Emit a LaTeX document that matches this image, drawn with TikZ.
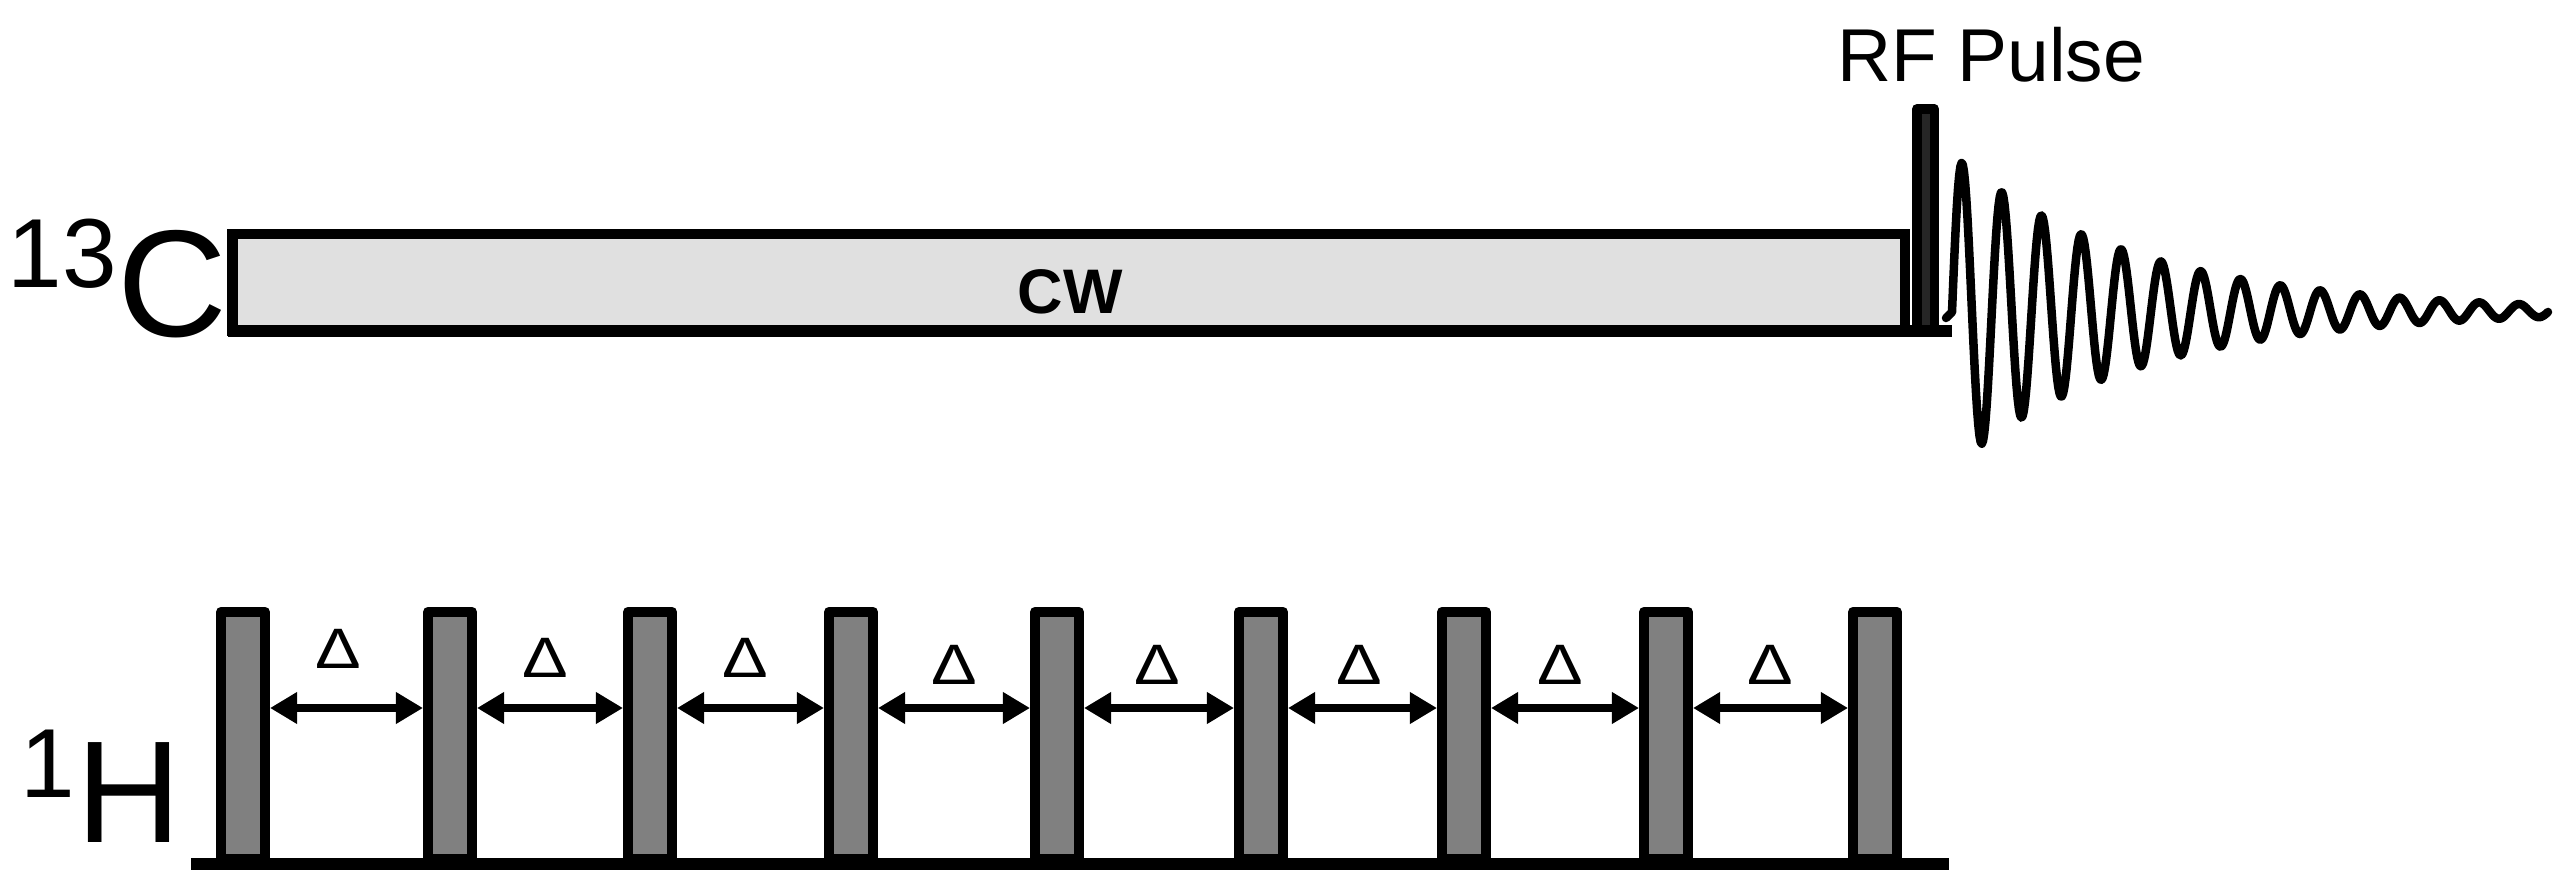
\documentclass[tikz,border=0pt]{standalone}
\usepackage{fontspec}
\usepackage{graphicx}
\setmainfont{Liberation Sans}
\usetikzlibrary{arrows.meta}
\definecolor{boxfill}{HTML}{E0E0E0}
\definecolor{pulsegray}{HTML}{808080}
\definecolor{rfdark}{HTML}{262626}
\newcommand{\myfs}[1]{\fontsize{#1pt}{#1pt}\selectfont}
\begin{document}
\begin{tikzpicture}[x=0.01cm, y=-0.01cm,
  hpulse/.style={draw, fill=pulsegray, line width=1mm, line join=round,
    minimum width=0.44cm, minimum height=2.47cm, inner sep=0pt, outer sep=0.5mm, anchor=south},
  dimarrow/.style={<->, >={Triangle[length=2.7mm, width=3mm]}, line width=0.8mm},
  axisline/.style={line width=1.2mm},
  txt/.style={inner sep=0pt, outer sep=0pt, anchor=base west},
  dlabel/.style={inner sep=0pt, anchor=base, font=\myfs{16.2}},
  fid/.style={line width=0.85mm, line join=round, line cap=round}
]
\useasboundingbox (0,0) rectangle (2562,888);

% ---- 13C channel ----
\node[draw, fill=boxfill, line width=1mm, minimum width=16.72cm, minimum height=0.97cm,
      inner sep=0pt, outer sep=0pt, anchor=north west] (cw) at (232.5,234) {};
\node[inner sep=0pt, anchor=base, font=\bfseries\myfs{17.9}] (cwlabel) at (1070,314) {CW};
\node[draw, fill=rfdark, line width=0.95mm, line join=round, minimum width=0.175cm,
      minimum height=2.22cm, inner sep=0pt, outer sep=0pt, anchor=south] (rf) at (1925.5,331) {};
\coordinate (cb0) at (228,331);
\coordinate (cb1) at (1952,331);
\draw[axisline] (cb0) -- (cb1);

\node[txt, font=\myfs{27.9}] (c13) at (8,288) {13};
\node[txt, font=\myfs{43.25}] (cC) at (117,337) {C};
\node[txt, font=\myfs{21.3}] (rflabel) at (1837,82) {RF Pulse};

% FID
\draw[fid] (1946,318) -- plot[domain=0:596, samples=500]
  ({1952+\x}, {311 - 148*exp(-0.0055*(\x-10))*cos(9.045*(\x-10))});

% ---- 1H channel ----
\coordinate (ay) at (0,708);
\foreach \i/\xx in {1/243, 2/450, 3/650, 4/851, 5/1057, 6/1261, 7/1464, 8/1666, 9/1875}{
  \node[hpulse] (p\i) at (\xx,864) {};
}
\foreach \i/\j in {1/2, 2/3, 3/4, 4/5, 5/6, 6/7, 7/8, 8/9}{
  \draw[dimarrow] (p\i.east |- ay) -- (p\j.west |- ay);
}
\foreach \k/\xx/\yy in {1/338/669, 2/545/677, 3/745/677, 4/954/684, 5/1157/684, 6/1359/684, 7/1560/684, 8/1770/684}{
  \node[dlabel] (d\k) at (\xx,\yy) {\scalebox{1.2}[1]{Δ}};
}
\coordinate (hb0) at (191,864);
\coordinate (hb1) at (1949,864);
\draw[axisline] (hb0) -- (hb1);

\node[txt, font=\myfs{27.9}] (h1) at (21,797) {1};
\node[txt, font=\myfs{41.3}] (hH) at (76,842) {H};
\end{tikzpicture}
\end{document}
